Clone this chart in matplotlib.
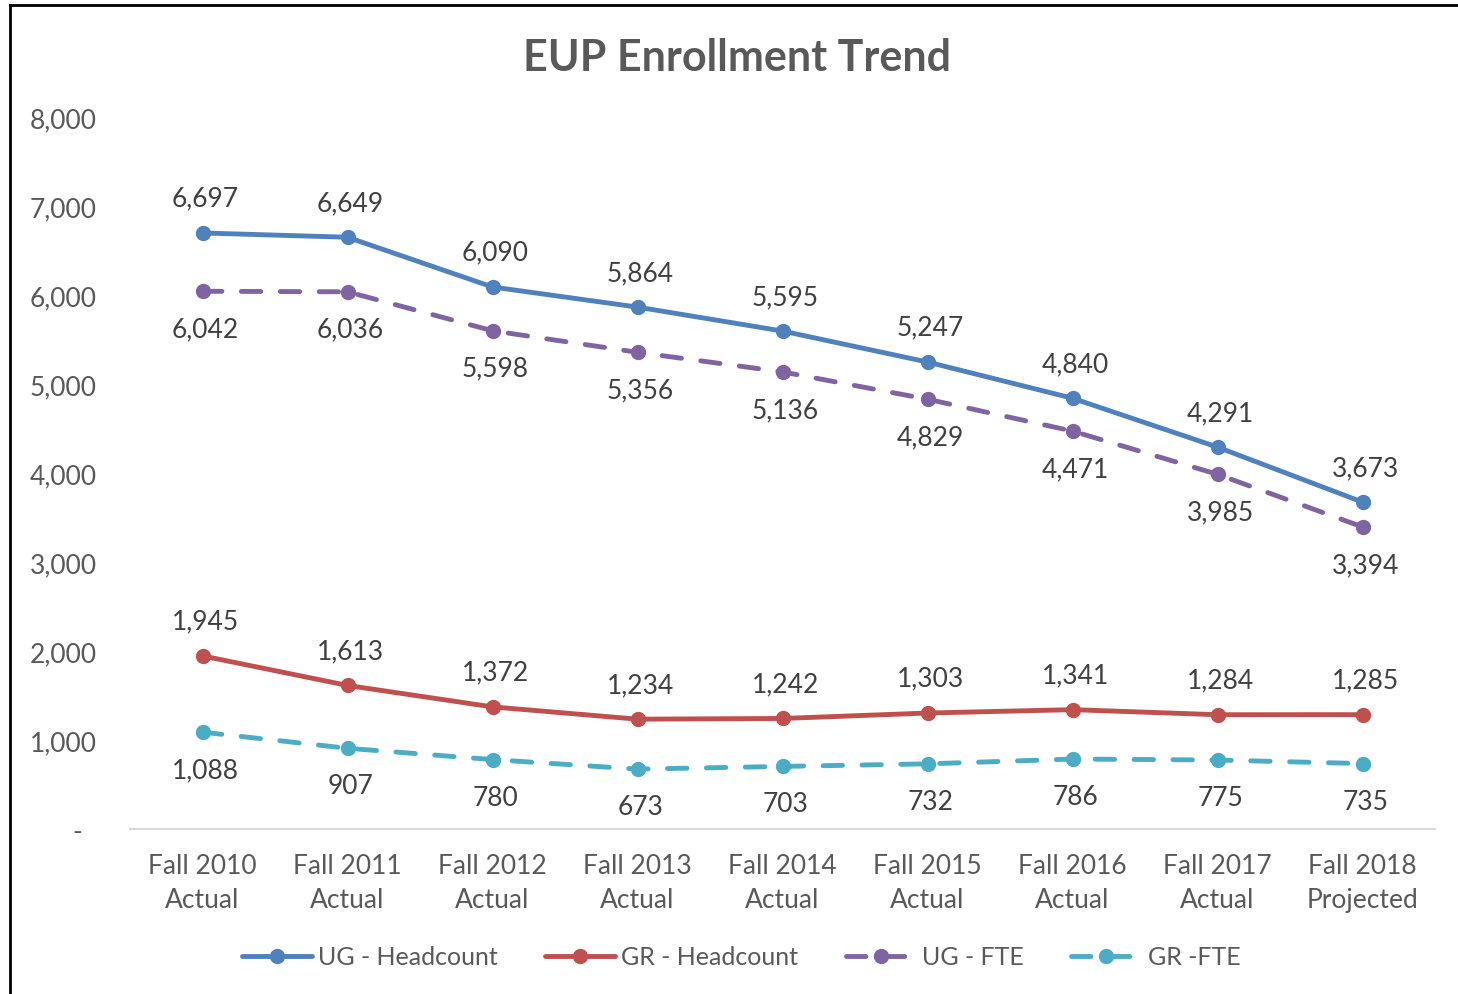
import matplotlib
matplotlib.use("Agg")
import matplotlib.pyplot as plt
from matplotlib.lines import Line2D

categories = ["Fall 2010\nActual", "Fall 2011\nActual", "Fall 2012\nActual", "Fall 2013\nActual",
              "Fall 2014\nActual", "Fall 2015\nActual", "Fall 2016\nActual", "Fall 2017\nActual",
              "Fall 2018\nProjected"]
ug_head = [6697, 6649, 6090, 5864, 5595, 5247, 4840, 4291, 3673]
gr_head = [1945, 1613, 1372, 1234, 1242, 1303, 1341, 1284, 1285]
ug_fte = [6042, 6036, 5598, 5356, 5136, 4829, 4471, 3985, 3394]
gr_fte = [1088, 907, 780, 673, 703, 732, 786, 775, 735]
yticks = [0, 1000, 2000, 3000, 4000, 5000, 6000, 7000, 8000]
ytick_labels = ["-  ", "1,000", "2,000", "3,000", "4,000", "5,000", "6,000", "7,000", "8,000"]

plt.rcParams['font.family'] = ['Lato', 'DejaVu Sans']

fig = plt.figure(figsize=(14.58, 9.95), dpi=100)
ax = fig.add_axes([130/1458, 1-830/995, (1435-130)/1458, (830-118)/995])

x = list(range(len(categories)))
series = [
    ("UG - Headcount", ug_head, "#4F81BD", "-", "above"),
    ("GR - Headcount", gr_head, "#C0504D", "-", "above"),
    ("UG - FTE", ug_fte, "#8064A2", "--", "below"),
    ("GR -FTE", gr_fte, "#4BACC6", "--", "below"),
]
handles = []
for name, vals, col, ls, pos in series:
    if ls == "--":
        ln, = ax.plot(x, vals, color=col, lw=3.5, ls=(0, (4, 4)), marker="o", ms=10,
                      dash_capstyle="round", solid_capstyle="round", label=name, zorder=3)
    else:
        ln, = ax.plot(x, vals, color=col, lw=3.5, marker="o", ms=10,
                      solid_capstyle="round", label=name, zorder=3)
    handles.append(ln)
    for xi, v in zip(x, vals):
        dy = 25 if pos == "above" else -27
        ax.annotate(f"{v:,}", (xi, v), xytext=(2, dy), textcoords="offset points",
                    ha="center", va="center", fontsize=19, color="#404040")

ax.set_xlim(-0.5, len(categories) - 0.5)
ax.set_ylim(0, 8000)
ax.set_yticks(yticks)
ax.set_yticklabels(ytick_labels)
ax.set_xticks(x)
ax.set_xticklabels(categories, linespacing=1.45)
ax.tick_params(axis="y", length=0, labelsize=19, labelcolor="#595959", pad=24)
ax.tick_params(axis="x", length=0, labelsize=19, labelcolor="#595959", pad=17)
for sp in ["top", "right", "left"]:
    ax.spines[sp].set_visible(False)
ax.spines["bottom"].set_color("#D9D9D9")
ax.spines["bottom"].set_linewidth(1.5)

fig.text(737/1458, 1-58/995, "EUP Enrollment Trend", ha="center", va="center",
         fontsize=31, fontweight="bold", color="#595959")

leg = fig.legend(handles=handles, loc="center", bbox_to_anchor=(741/1458, 1-958/995),
                 ncol=4, frameon=False, fontsize=18, labelcolor="#595959",
                 handlelength=2.8, columnspacing=1.9, handletextpad=0.25)

fig.add_artist(Line2D([10/1458, 10/1458], [0, 1-6/995], color="black", lw=2,
                      transform=fig.transFigure))
fig.add_artist(Line2D([10/1458, 1], [1-6/995, 1-6/995], color="black", lw=2,
                      transform=fig.transFigure))

fig.savefig("out.png", dpi=100)
